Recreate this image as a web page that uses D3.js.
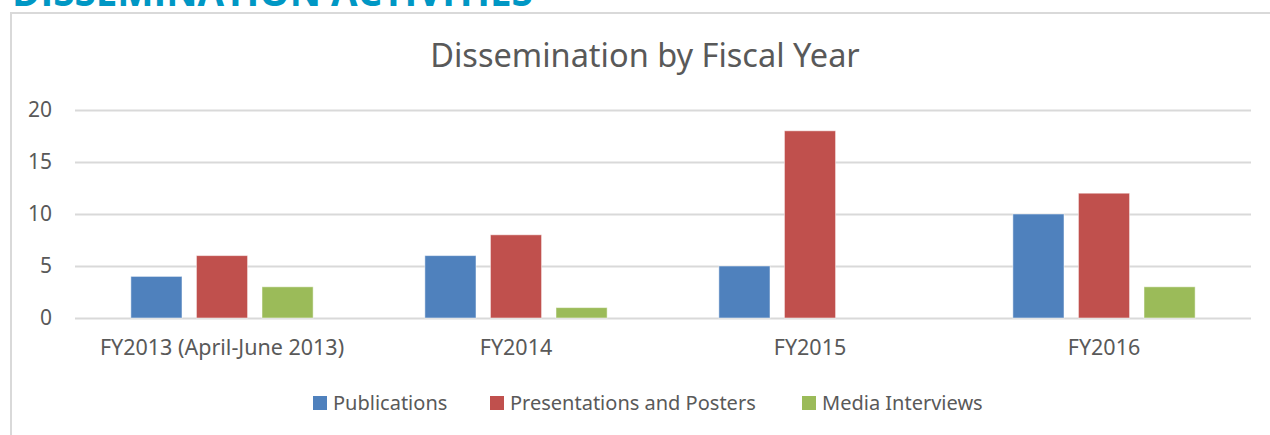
<!DOCTYPE html>
<html>
<head>
<meta charset="utf-8">
<script src="https://cdn.jsdelivr.net/npm/d3@7"></script>
<style>
  body { margin: 0; background: #fff; }
  svg { display: block; }
</style>
</head>
<body>
<div id="chart"></div>
<script>
// data
var years = ["FY2013 (April-June 2013)", "FY2014", "FY2015", "FY2016"];
var seriesNames = ["Publications", "Presentations and Posters", "Media Interviews"];
var publications = [4, 6, 5, 10];
var presentations = [6, 8, 18, 12];
var media = [3, 1, 0, 3];
var yTicks = [0, 5, 10, 15, 20];

var colors = ["#4F81BD", "#C0504D", "#9BBB59"];
var values = [publications, presentations, media];

var width = 1270, height = 435;
var font = "'Noto Sans', 'Open Sans', sans-serif";
var textColor = "#595959";

var svg = d3.select("#chart").append("svg")
    .attr("width", width)
    .attr("height", height);

// page heading, cut off by the top of the picture
svg.append("text")
    .attr("x", 12)
    .attr("y", 6)
    .style("font-family", "'Open Sans', sans-serif")
    .style("font-weight", "bold")
    .style("font-size", "38.5px")
    .style("fill", "#0097C4")
    .text("DISSEMINATION ACTIVITIES");

// chart frame (right side runs off the page)
svg.append("path")
    .attr("d", "M11,440 V13 H1290")
    .attr("fill", "none")
    .attr("stroke", "#D9D9D9")
    .attr("stroke-width", 2);

svg.append("text")
    .attr("x", 645)
    .attr("y", 67)
    .attr("text-anchor", "middle")
    .style("font-family", font)
    .style("font-size", "32.5px")
    .style("fill", textColor)
    .text("Dissemination by Fiscal Year");

var plot = {left: 75, right: 1251, top: 110, bottom: 318};

var x0 = d3.scaleBand()
    .domain(years)
    .range([plot.left, plot.right]);

var gap = x0.bandwidth() * 0.19;
var x1 = d3.scaleBand()
    .domain(d3.range(seriesNames.length))
    .range([gap, x0.bandwidth() - gap])
    .paddingInner(0.22);

var y = d3.scaleLinear()
    .domain([0, 20])
    .range([plot.bottom, plot.top]);

// gridlines
svg.append("g")
    .selectAll("line")
    .data(yTicks)
    .enter().append("line")
    .attr("x1", plot.left)
    .attr("x2", plot.right)
    .attr("y1", function (d) { return Math.round(y(d)) + 0.5; })
    .attr("y2", function (d) { return Math.round(y(d)) + 0.5; })
    .attr("stroke", "#D9D9D9")
    .attr("stroke-width", 2);

// y axis labels
var yAxis = svg.append("g")
    .attr("transform", "translate(" + (plot.left - 23) + ",0)")
    .call(d3.axisLeft(y).tickValues(yTicks).tickSize(0).tickPadding(0));
yAxis.select(".domain").remove();
yAxis.selectAll("text")
    .style("font-family", font)
    .style("font-size", "21px")
    .style("fill", textColor);

// bars
var groups = svg.append("g")
    .selectAll("g")
    .data(years)
    .enter().append("g")
    .attr("transform", function (d) { return "translate(" + x0(d) + ",0)"; });

groups.selectAll("rect")
    .data(function (d, i) {
        return values.map(function (v, s) { return {s: s, v: v[i]}; });
    })
    .enter().append("rect")
    .filter(function (d) { return d.v > 0; })
    .attr("x", function (d) { return x1(d.s); })
    .attr("width", x1.bandwidth())
    .attr("y", function (d) { return y(d.v); })
    .attr("height", function (d) { return y(0) - y(d.v); })
    .attr("fill", function (d) { return colors[d.s]; })
    .attr("stroke", "#fff")
    .attr("stroke-opacity", 0.5)
    .attr("stroke-width", 1);

// x axis labels
var xAxis = svg.append("g")
    .attr("transform", "translate(0," + (plot.bottom + 22) + ")")
    .call(d3.axisBottom(x0).tickSize(0).tickPadding(0));
xAxis.select(".domain").remove();
xAxis.selectAll("text")
    .attr("dy", "0.72em")
    .style("font-family", font)
    .style("font-size", "21.5px")
    .style("fill", textColor);

// legend
var legendX = [313, 490, 802];
var legend = svg.append("g")
    .selectAll("g")
    .data(seriesNames)
    .enter().append("g")
    .attr("transform", function (d, i) { return "translate(" + legendX[i] + ",396)"; });

legend.append("rect")
    .attr("width", 14)
    .attr("height", 14)
    .attr("fill", function (d, i) { return colors[i]; });

legend.append("text")
    .attr("x", 20)
    .attr("y", 14)
    .style("font-family", font)
    .style("font-size", "20px")
    .style("fill", textColor)
    .text(function (d) { return d; });
</script>
</body>
</html>
